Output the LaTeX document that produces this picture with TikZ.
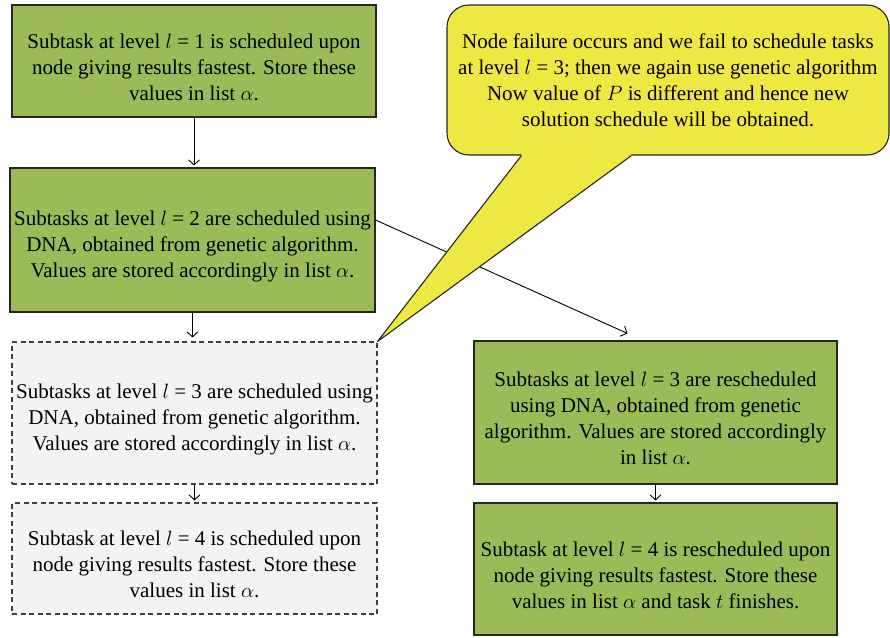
\documentclass[tikz,border=0pt]{standalone}
\usepackage{fontspec}
\setmainfont{Liberation Serif}
\usetikzlibrary{arrows.meta}
\definecolor{stepgreen}{RGB}{155,187,89}
\definecolor{lostgray}{RGB}{242,243,242}
\definecolor{noteyellow}{RGB}{237,232,66}
\newcommand{\lowered}{\rule{0pt}{27pt}}
\begin{document}
\begin{tikzpicture}[x=1pt,y=-1pt,
  every node/.style={font=\fontsize{21}{26}\selectfont, align=center, inner sep=0pt},
  stepbox/.style={draw=black!85, line width=1.1pt, fill=stepgreen},
  lostbox/.style={draw=black!75, line width=1.1pt, dash pattern=on 5pt off 3.5pt, fill=lostgray},
  link/.style={-{Straight Barb[length=5pt,width=11pt]}, line width=0.9pt, shorten >=2pt}]
\clip (0,0) rectangle (890,637);
% left column: first schedule
\node[stepbox, minimum width=364pt, minimum height=112pt] (l1) at (194,61)
  {\lowered Subtask at level $l$ = 1 is scheduled upon\\ node giving results fastest. Store these\\ values in list $\alpha$.};
\node[stepbox, minimum width=365pt, minimum height=144pt] (l2) at (192.5,240)
  {\lowered Subtasks at level $l$ = 2 are scheduled using\\ DNA, obtained from genetic algorithm.\\ Values are stored accordingly in list $\alpha$.};
\node[lostbox, minimum width=365pt, minimum height=142pt] (l3) at (194.5,413)
  {\lowered Subtasks at level $l$ = 3 are scheduled using\\ DNA, obtained from genetic algorithm.\\ Values are stored accordingly in list $\alpha$.};
\node[lostbox, minimum width=365pt, minimum height=111pt] (l4) at (194.5,558.5)
  {\lowered Subtask at level $l$ = 4 is scheduled upon\\ node giving results fastest. Store these\\ values in list $\alpha$.};
% right column: rescheduling
\node[stepbox, minimum width=363pt, minimum height=143pt] (r3) at (655.5,412.5)
  {\lowered Subtasks at level $l$ = 3 are rescheduled\\ using DNA, obtained from genetic\\ algorithm. Values are stored accordingly\\ in list $\alpha$.};
\node[stepbox, minimum width=363pt, minimum height=132pt] (r4) at (655.5,569)
  {\lowered Subtask at level $l$ = 4 is rescheduled upon\\ node giving results fastest. Store these\\ values in list $\alpha$ and task $t$ finishes.};
\draw[link] (l1.south) -- (l1.south |- l2.north);
\draw[link, shorten >=4pt] (l2.south) -- (l2.south |- l3.north);
\draw[link] (l3.south) -- (l3.south |- l4.north);
\draw[link] (r3.south) -- (r3.south |- r4.north);
\draw[link, shorten >=0pt] ([yshift=20pt]l2.east) -- ([xshift=-28pt,yshift=7pt]r3.north);
% callout
\node[draw=black!85, line width=1.1pt, fill=noteyellow, rounded corners=22pt,
  minimum width=442pt, minimum height=150pt] (fail) at (668,80)
  {Node failure occurs and we fail to schedule tasks\\ at level $l$ = 3; then we again use genetic algorithm\\ Now value of $P$ is different and hence new\\ solution schedule will be obtained.};
\coordinate (b1) at ([xshift=75pt]fail.south west);
\coordinate (b2) at ([xshift=185pt]fail.south west);
\fill[noteyellow] (b1) -- (l3.north east) -- (b2) -- ([yshift=3pt]b2) -- ([yshift=3pt]b1) -- cycle;
\draw[black!85, line width=1.1pt, line join=round] (b1) -- (l3.north east) -- (b2);
\end{tikzpicture}
\end{document}
